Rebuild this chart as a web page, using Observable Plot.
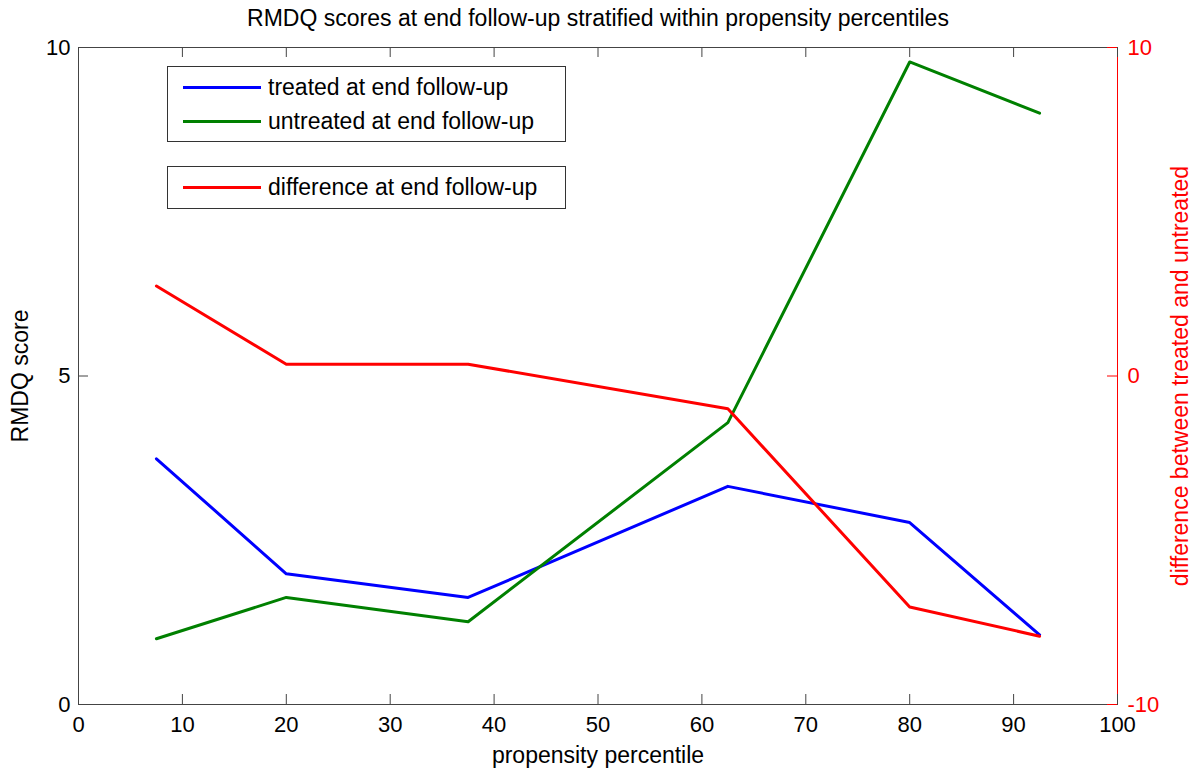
<!DOCTYPE html>
<html><head><meta charset="utf-8">
<script src="https://cdn.jsdelivr.net/npm/d3@7"></script>
<script src="https://cdn.jsdelivr.net/npm/@observablehq/plot@0.6"></script>
<style>
body{margin:0;background:#fff;font-family:"Liberation Sans",Arial,sans-serif;}
#wrap{position:relative;width:1193px;height:768px;}
.legend{position:absolute;border:1px solid #333;background:#fff;box-sizing:border-box;}
.item{position:absolute;left:0;height:0;}
.swatch{position:absolute;left:15px;width:78px;height:3px;margin-top:-1.5px;}
.lab{position:absolute;left:100px;font-size:23px;line-height:26px;margin-top:-13px;white-space:nowrap;color:#000;}
</style></head><body><div id="wrap"></div>
<script>
const title = "RMDQ scores at end follow-up stratified within propensity percentiles";
const percentile = [7.5, 20, 37.5, 62.5, 80, 92.5];
const treated    = [3.74, 1.99, 1.63, 3.32, 2.77, 1.06];
const untreated  = [1.00, 1.63, 1.26, 4.29, 9.78, 9.00];
const difference = [2.74, 0.36, 0.36, -1.00, -7.03, -7.92];
const xTicks = [0,10,20,30,40,50,60,70,80,90,100];
const leftTicks = [0,5,10];
const rightTicks = [-10,0,10];
const seriesNames = ["treated at end follow-up","untreated at end follow-up","difference at end follow-up"];
const colors = ["#0000ff","#008000","#ff0000"];

const W = 1193, H = 768, mL = 78, mR = 76, mT = 47, mB = 64;
const innerW = W - mL - mR, innerH = H - mT - mB;
// right axis (-10..10) mapped onto left scale (0..10)
const rightToLeft = d3.scaleLinear().domain([-10,10]).range([0,10]);

const rows = (ys) => percentile.map((x,i)=>({x, y: ys[i]}));
const tRows = rows(treated), uRows = rows(untreated);
const dRows = percentile.map((x,i)=>({x, y: rightToLeft(difference[i])}));

const plot = Plot.plot({
  width: W, height: H,
  marginLeft: mL, marginRight: mR, marginTop: mT, marginBottom: mB,
  style: {fontFamily: '"Liberation Sans", Arial, sans-serif', fontSize: "23px", background: "#fff", overflow: "visible"},
  x: {domain: [0,100]},
  y: {domain: [0,10]},
  marks: [
    Plot.frame({stroke: "#444"}),
    Plot.ruleX([100], {stroke: "#ff0000"}),
    // inward ticks
    Plot.tickX(xTicks, {x: d=>d, insetTop: innerH - 10, stroke: "#444"}),
    Plot.tickX(xTicks, {x: d=>d, insetBottom: innerH - 10, stroke: "#444"}),
    Plot.tickY(leftTicks, {y: d=>d, insetRight: innerW - 10, stroke: "#444"}),
    Plot.tickY(rightTicks, {y: d=>rightToLeft(d), insetLeft: innerW - 10, stroke: "#ff0000"}),
    Plot.axisX({ticks: xTicks, tickSize: 0, tickPadding: 12, fontSize: 22, label: null, fill: "#000"}),
    Plot.axisX({ticks: [], tickSize: 0, label: "propensity percentile", labelAnchor: "center", labelArrow: "none", labelOffset: 58, fill: "#000"}),
    Plot.axisY({ticks: leftTicks, tickSize: 0, tickPadding: 8, fontSize: 22, label: null, fill: "#000"}),
    Plot.axisY({ticks: [], tickSize: 0, label: "RMDQ score", labelAnchor: "center", labelArrow: "none", labelOffset: 67, fill: "#000"}),
    Plot.axisY(rightTicks.map(d=>rightToLeft(d)), {anchor: "right", tickSize: 0, tickPadding: 10, fontSize: 22, tickFormat: d => String(Math.round(rightToLeft.invert(d))), color: "#ff0000", label: null}),
    Plot.axisY([], {anchor: "right", tickSize: 0, color: "#ff0000", label: "difference between treated and untreated", labelAnchor: "center", labelArrow: "none", labelOffset: 70}),
    Plot.line(tRows, {x: "x", y: "y", stroke: colors[0], strokeWidth: 3}),
    Plot.line(uRows, {x: "x", y: "y", stroke: colors[1], strokeWidth: 3}),
    Plot.line(dRows, {x: "x", y: "y", stroke: colors[2], strokeWidth: 3}),
    Plot.text([title], {frameAnchor: "top", lineAnchor: "middle", dy: -29, fontSize: 23, fill: "#000"})
  ]
});
const wrap = document.getElementById("wrap");
wrap.appendChild(plot);

function legendBox(top, height, items){
  const box = document.createElement("div");
  box.className = "legend";
  Object.assign(box.style, {left: "167px", top: top+"px", width: "399px", height: height+"px"});
  items.forEach(([name,color,cy])=>{
    const it = document.createElement("div");
    it.className = "item"; it.style.top = cy + "px";
    const sw = document.createElement("div"); sw.className = "swatch"; sw.style.background = color;
    const lb = document.createElement("div"); lb.className = "lab"; lb.textContent = name;
    it.appendChild(sw); it.appendChild(lb); box.appendChild(it);
  });
  wrap.appendChild(box);
}
legendBox(66, 76, [[seriesNames[0], colors[0], 20],[seriesNames[1], colors[1], 54]]);
legendBox(166, 43, [[seriesNames[2], colors[2], 20]]);
</script></body></html>
